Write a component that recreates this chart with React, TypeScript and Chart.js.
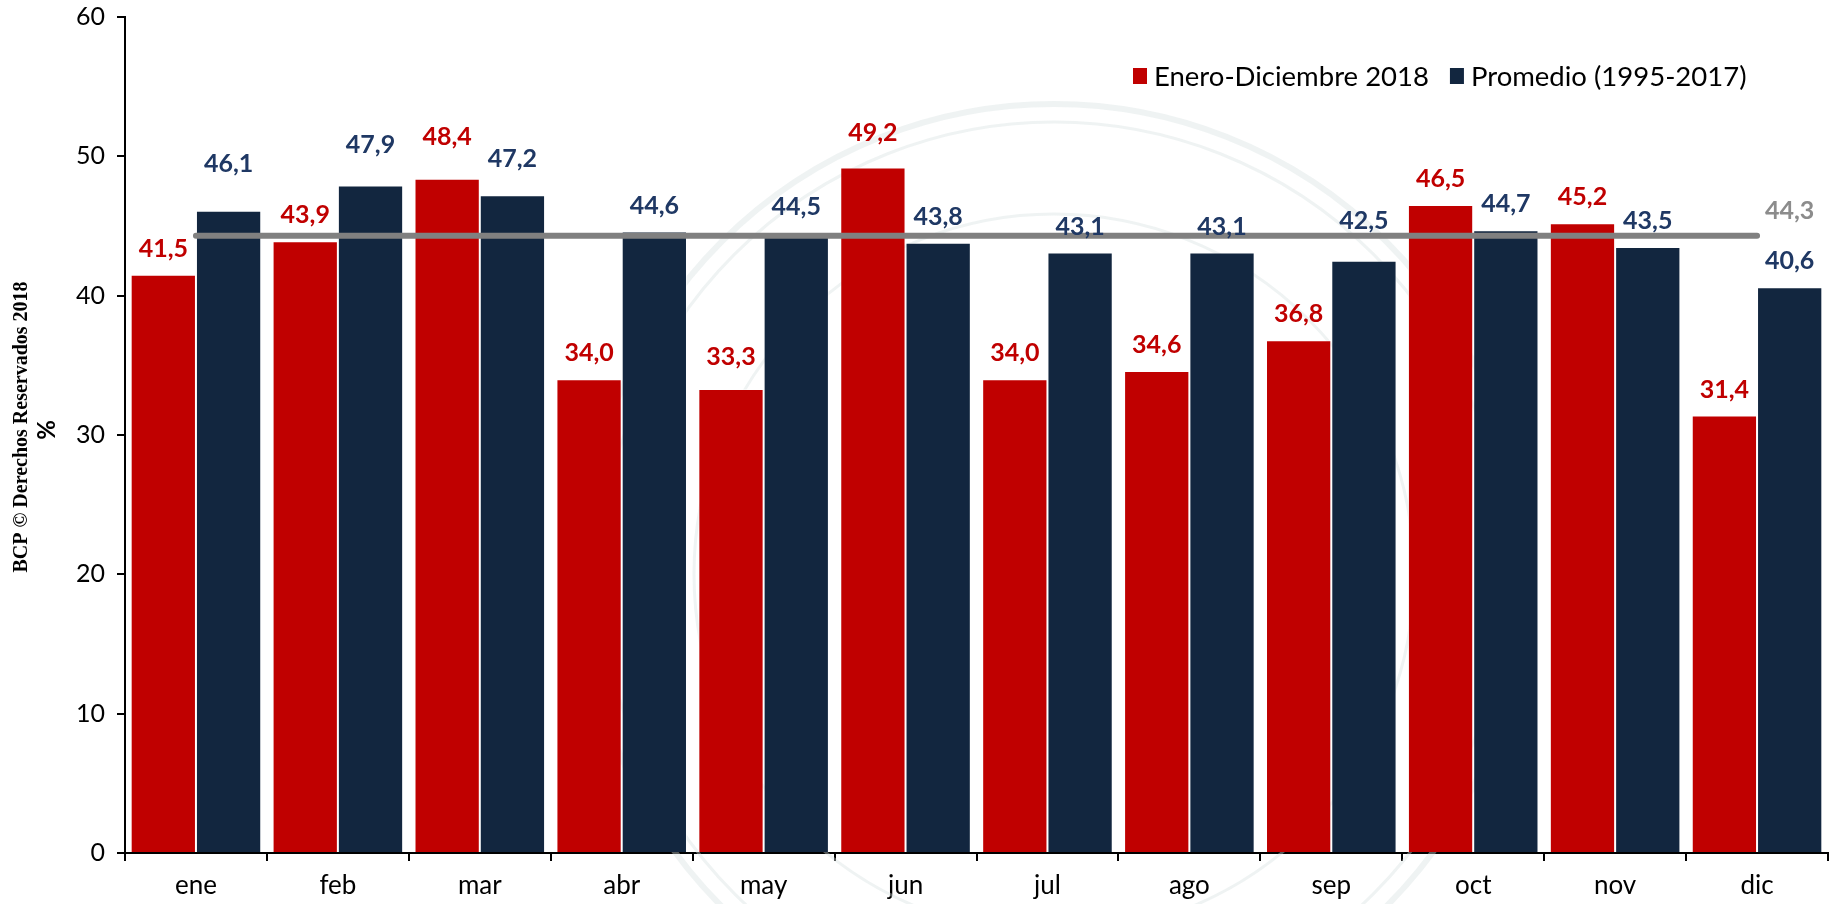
import React, { useEffect, useRef } from "react";
import { Chart, registerables } from "chart.js";

Chart.register(...registerables);

const categories = ["ene", "feb", "mar", "abr", "may", "jun", "jul", "ago", "sep", "oct", "nov", "dic"];
const serie2018 = [41.5, 43.9, 48.4, 34.0, 33.3, 49.2, 34.0, 34.6, 36.8, 46.5, 45.2, 31.4];
const seriePromedio = [46.1, 47.9, 47.2, 44.6, 44.5, 43.8, 43.1, 43.1, 42.5, 44.7, 43.5, 40.6];
const promedioGeneral = [44.3, 44.3, 44.3, 44.3, 44.3, 44.3, 44.3, 44.3, 44.3, 44.3, 44.3, 44.3];
const yTicks = [0, 10, 20, 30, 40, 50, 60];
const legendLabels = ["Enero-Diciembre 2018", "Promedio (1995-2017)"];

const RED = "#C00000";
const NAVY = "#12263F";
const NAVY_LABEL = "#1F3864";
const GRAY = "#808080";

const fmt = (v: number) => v.toFixed(1).replace(".", ",");

const labelPlugin = {
  id: "valueLabels",
  afterDatasetsDraw(chart: any) {
    const ctx = chart.ctx;
    ctx.save();
    ctx.font = "bold 25px Lato";
    ctx.textAlign = "center";
    ctx.textBaseline = "middle";
    chart.data.datasets.forEach((ds: any, i: number) => {
      const meta = chart.getDatasetMeta(i);
      if (ds.type === "line") {
        const last = meta.data.length - 1;
        const pt = meta.data[last];
        const navyMeta = chart.getDatasetMeta(1);
        const x = navyMeta.data[last].x;
        ctx.fillStyle = ds.labelColor;
        ctx.fillText(fmt(ds.data[last]), x, pt.y - 25);
        return;
      }
      meta.data.forEach((el: any, j: number) => {
        const lift = (ds.labelLift && ds.labelLift[j]) || 0;
        ctx.fillStyle = ds.labelColor;
        ctx.fillText(fmt(ds.data[j]), el.x, el.y - 26 - lift);
      });
    });
    ctx.restore();
  },
};

const decorPlugin = {
  id: "decor",
  beforeDatasetsDraw(chart: any) {
    const ctx = chart.ctx;
    ctx.save();
    ctx.strokeStyle = "rgba(215,224,224,0.4)";
    const cx = 1054, cy = 574;
    ctx.lineWidth = 6;
    ctx.beginPath(); ctx.arc(cx, cy, 470, 0, Math.PI * 2); ctx.stroke();
    ctx.lineWidth = 3;
    ctx.beginPath(); ctx.arc(cx, cy, 452, 0, Math.PI * 2); ctx.stroke();
    ctx.beginPath(); ctx.arc(cx, cy, 360, 0, Math.PI * 2); ctx.stroke();
    ctx.restore();
  },
  afterDraw(chart: any) {
    const ctx = chart.ctx;
    ctx.save();
    ctx.font = "27.5px Lato";
    ctx.textBaseline = "middle";
    ctx.textAlign = "left";
    const ly = 76;
    let lx = 1133;
    const colors = [RED, NAVY];
    legendLabels.forEach((t, i) => {
      ctx.fillStyle = colors[i];
      ctx.fillRect(lx, ly - 8, 14, 16);
      ctx.fillStyle = "#000";
      ctx.fillText(t, lx + 21, ly + 1);
      lx += 21 + ctx.measureText(t).width + 21;
    });
    ctx.textAlign = "center";
    ctx.fillStyle = "#000";
    ctx.save();
    ctx.translate(22, 427);
    ctx.rotate(-Math.PI / 2);
    ctx.font = "bold 20px 'Liberation Serif'";
    ctx.fillText("BCP © Derechos Reservados 2018", 0, 0);
    ctx.restore();
    ctx.save();
    ctx.translate(47, 430);
    ctx.rotate(-Math.PI / 2);
    ctx.font = "bold 24px Lato";
    ctx.fillText("%", 0, 0);
    ctx.restore();
    ctx.restore();
  },
};

export default function App() {
  const ref = useRef<HTMLCanvasElement>(null);
  useEffect(() => {
    if (!ref.current) return;
    const chart = new Chart(ref.current, {
      type: "bar",
      data: {
        labels: categories,
        datasets: [
          {
            type: "bar",
            label: legendLabels[0],
            data: serie2018,
            backgroundColor: RED,
            borderColor: "rgba(255,255,255,0.55)",
            borderWidth: 1,
            categoryPercentage: 0.92,
            barPercentage: 1.0,
            order: 2,
            labelColor: RED,
            labelLift: [0, 0, 16, 0, 6, 9, 0, 0, 0, 0, 0, 0],
          } as any,
          {
            type: "bar",
            label: legendLabels[1],
            data: seriePromedio,
            backgroundColor: NAVY,
            borderColor: "rgba(255,255,255,0.55)",
            borderWidth: 1,
            categoryPercentage: 0.92,
            barPercentage: 1.0,
            order: 2,
            labelColor: NAVY_LABEL,
            labelLift: [21, 15, 10, 0, 0, 0, 0, 0, 14, 0, 0, 0],
          } as any,
          {
            type: "line",
            label: "Promedio",
            data: promedioGeneral,
            borderColor: GRAY,
            borderWidth: 6,
            borderCapStyle: "round",
            pointRadius: 0,
            fill: false,
            order: 0,
            labelColor: "#8C8C8C",
          } as any,
        ],
      },
      options: {
        animation: false,
        responsive: false,
        maintainAspectRatio: false,
        layout: { padding: { left: 0, right: 9, top: 17, bottom: 0 } },
        plugins: {
          legend: { display: false },
          tooltip: { enabled: false },
          title: { display: false },
        },
        scales: {
          x: {
            grid: {
              display: true,
              drawOnChartArea: false,
              drawTicks: true,
              tickLength: 8,
              color: "#000",
              lineWidth: 2,
              offset: true,
            },
            border: { display: true, color: "#000", width: 2 },
            ticks: {
              color: "#000",
              font: { family: "Lato", size: 26 },
              padding: 9,
            },
            afterFit: (scale: any) => {
              scale.height = 51;
              scale.paddingLeft = 0;
              scale.paddingRight = 0;
            },
          },
          y: {
            min: 0,
            max: 60,
            afterBuildTicks: (scale: any) => {
              scale.ticks = yTicks.map((v) => ({ value: v }));
            },
            grid: {
              display: true,
              drawOnChartArea: false,
              drawTicks: true,
              tickLength: 8,
              color: "#000",
              lineWidth: 2,
            },
            border: { display: true, color: "#000", width: 2 },
            ticks: {
              color: "#000",
              font: { family: "Lato", size: 25 },
              padding: 12,
            },
            afterFit: (scale: any) => {
              scale.width = 125;
              scale.paddingTop = 0;
              scale.paddingBottom = 0;
            },
          },
        },
      },
      plugins: [decorPlugin, labelPlugin],
    });
    return () => chart.destroy();
  }, []);
  return (
    <div style={{ position: "absolute", left: 0, top: 0, width: 1837, height: 904, background: "#fff" }}>
      <canvas ref={ref} width={1837} height={904} style={{ display: "block" }} />
    </div>
  );
}
